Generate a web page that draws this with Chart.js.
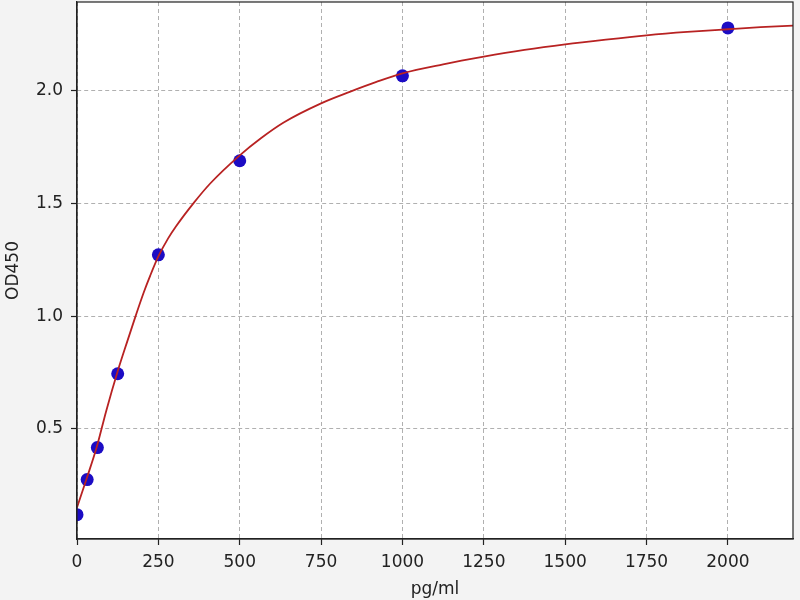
<!DOCTYPE html>
<html>
<head>
<meta charset="utf-8">
<script src="https://cdn.jsdelivr.net/npm/chart.js@4/dist/chart.umd.min.js"></script>
<style>
  html, body { margin: 0; padding: 0; background: #f3f3f3; }
  #wrap { width: 800px; height: 600px; position: relative; }
</style>
</head>
<body>
<div id="wrap"><canvas id="curveChart"></canvas></div>
<script>
// measured standards (pg/ml vs OD450)
const stdConc = [0, 31.25, 62.5, 125, 250, 500, 1000, 2000];
const stdOD = [0.118, 0.274, 0.416, 0.744, 1.272, 1.69, 2.067, 2.28];

// fitted curve
const fitConc = [0, 30, 60, 90, 125, 155, 180, 205, 225, 250, 280, 305, 360, 410, 500, 565, 635, 750, 840, 920, 1000, 1125, 1250, 1375, 1500, 1625, 1750, 1875, 2000, 2100, 2200];
const fitOD = [0.15, 0.28, 0.415, 0.58, 0.755, 0.89, 1.0, 1.105, 1.18, 1.265, 1.345, 1.4, 1.505, 1.59, 1.714, 1.79, 1.86, 1.945, 1.997, 2.04, 2.078, 2.118, 2.152, 2.182, 2.207, 2.228, 2.247, 2.262, 2.274, 2.283, 2.29];

// tick labels
const xTicks = [0, 250, 500, 750, 1000, 1250, 1500, 1750, 2000];
const yTicks = [0.5, 1.0, 1.5, 2.0];

const toXY = (xs, ys) => xs.map((x, i) => ({ x: x, y: ys[i] }));

// gray page, white plot area, frame all round
const framePlugin = {
  id: "frame",
  beforeDraw(chart) {
    const { ctx, chartArea: a } = chart;
    ctx.save();
    ctx.fillStyle = "#f3f3f3";
    ctx.fillRect(0, 0, chart.width, chart.height);
    ctx.fillStyle = "#ffffff";
    ctx.fillRect(a.left, a.top, a.right - a.left, a.bottom - a.top);
    ctx.restore();
  },
  afterDraw(chart) {
    const { ctx, chartArea: a } = chart;
    ctx.save();
    ctx.strokeStyle = "#222";
    ctx.lineWidth = 1.2;
    ctx.strokeRect(a.left, a.top, a.right - a.left, a.bottom - a.top);
    ctx.restore();
  },
};

const font = { family: "'DejaVu Sans'", size: 17 };

new Chart(document.getElementById("curveChart"), {
  type: "scatter",
  data: {
    datasets: [
      {
        label: "fit",
        data: toXY(fitConc, fitOD),
        showLine: true,
        borderColor: "#b82222",
        borderWidth: 1.8,
        pointRadius: 0,
        cubicInterpolationMode: "monotone",
      },
      {
        label: "standards",
        data: toXY(stdConc, stdOD),
        pointRadius: 6.5,
        pointBackgroundColor: "#1c0cc4",
        pointBorderColor: "#1c0cc4",
        pointBorderWidth: 0,
      },
    ],
  },
  plugins: [framePlugin],
  options: {
    responsive: true,
    maintainAspectRatio: false,
    animation: false,
    layout: { autoPadding: false, padding: { top: 2, right: 7, left: 0, bottom: 0 } },
    plugins: {
      legend: { display: false },
      tooltip: { enabled: false },
    },
    scales: {
      x: {
        type: "linear",
        min: 0,
        max: 2200,
        afterBuildTicks: (s) => { s.ticks = xTicks.map((v) => ({ value: v })); },
        afterFit: (s) => { s.height = 61; s.paddingLeft = 0; s.paddingRight = 0; },
        ticks: { color: "#222", font: font, padding: 7, maxRotation: 0, callback: (v) => String(v) },
        grid: { color: "#b0b0b0", lineWidth: 1, tickLength: 6, tickColor: "#222", tickWidth: 1.2 },
        border: { display: true, color: "#222", width: 1.2, dash: [4, 3] },
        title: { display: true, text: "pg/ml", color: "#222", font: font, padding: { top: 0, bottom: 0 } },
      },
      y: {
        type: "linear",
        min: 0.01,
        max: 2.395,
        afterBuildTicks: (s) => { s.ticks = yTicks.map((v) => ({ value: v })); },
        afterFit: (s) => { s.width = 77; s.paddingTop = 0; s.paddingBottom = 0; },
        ticks: { color: "#222", font: font, padding: 8, callback: (v) => v.toFixed(1) },
        grid: { color: "#b0b0b0", lineWidth: 1, tickLength: 6, tickColor: "#222", tickWidth: 1.2 },
        border: { display: true, color: "#222", width: 1.2, dash: [4, 3] },
        title: { display: true, text: "OD450", color: "#222", font: font, padding: { top: 3, bottom: 4 } },
      },
    },
  },
});
</script>
</body>
</html>
